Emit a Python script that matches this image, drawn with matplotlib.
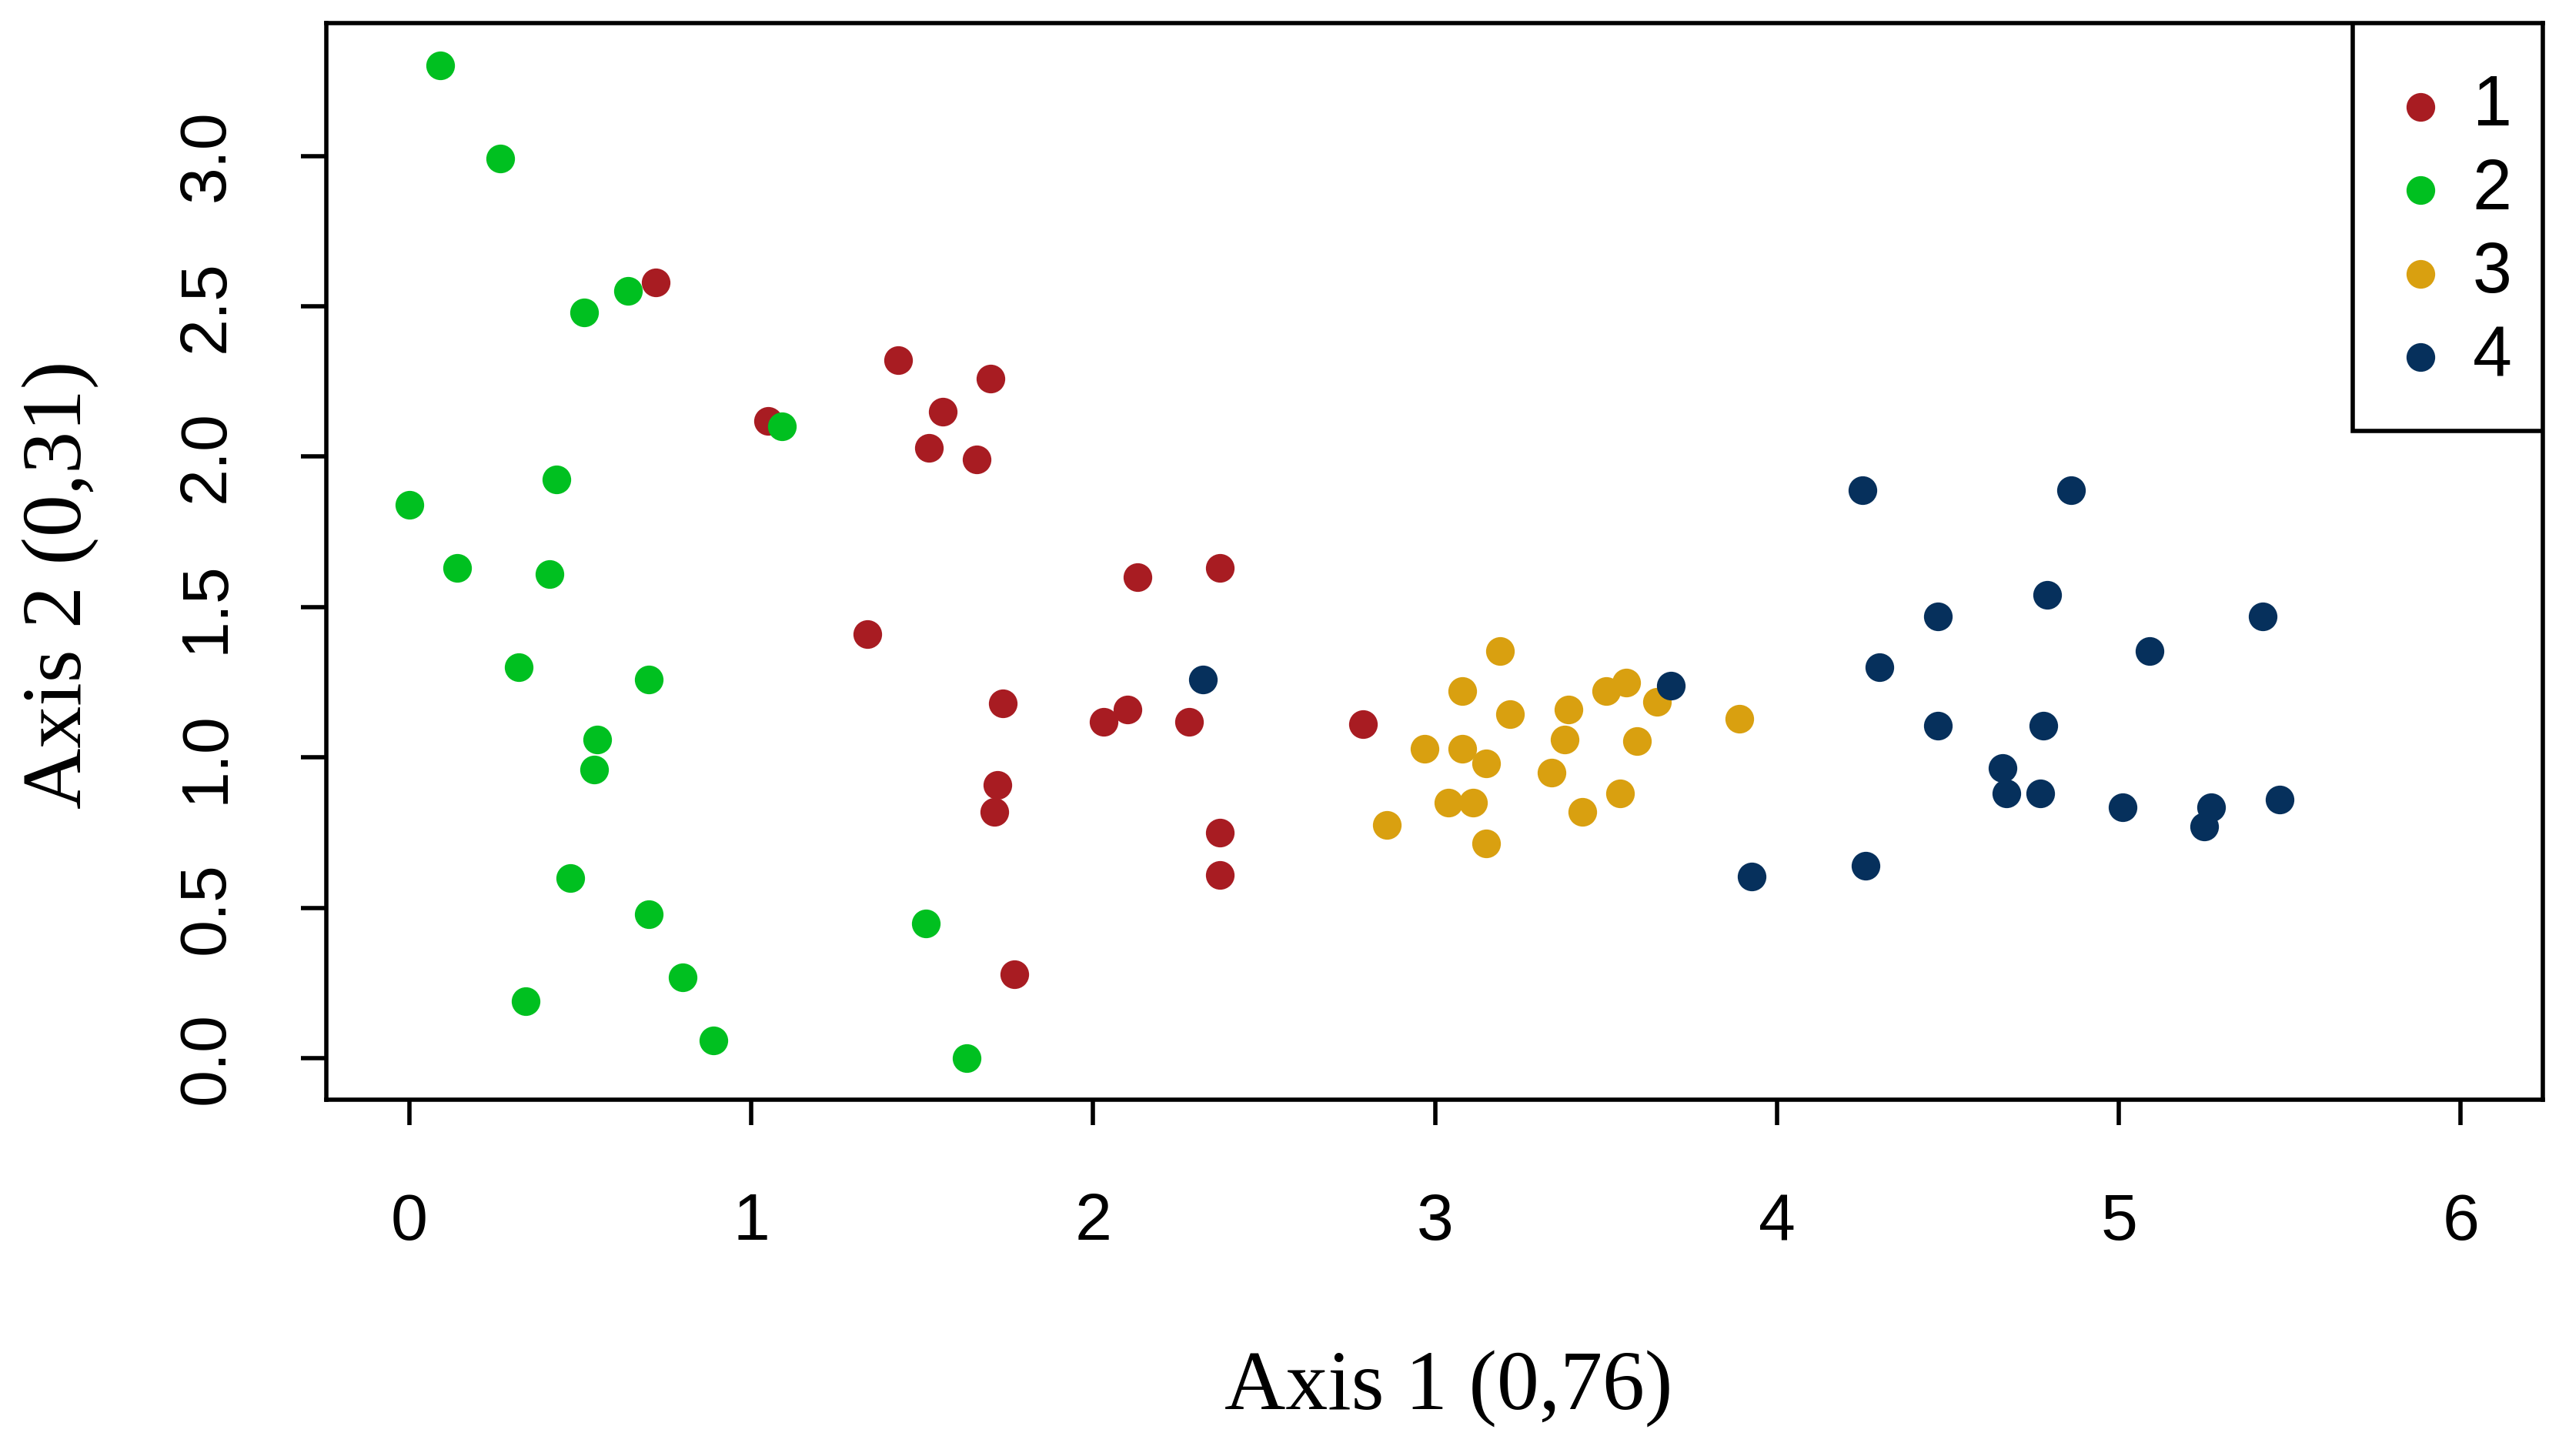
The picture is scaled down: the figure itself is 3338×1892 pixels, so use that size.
import matplotlib
matplotlib.use("Agg")
import matplotlib.pyplot as plt
from matplotlib.patches import Rectangle

# cluster 1 (red)
g1_x = [0.72, 1.05, 1.43, 1.56, 1.52, 1.70, 1.66, 1.34, 2.13, 2.37,
        1.735, 2.03, 2.10, 2.28, 1.72, 1.71, 2.37, 2.37, 1.77, 2.79]
g1_y = [2.58, 2.12, 2.32, 2.15, 2.03, 2.26, 1.99, 1.41, 1.60, 1.63,
        1.18, 1.12, 1.16, 1.12, 0.91, 0.82, 0.75, 0.61, 0.28, 1.11]

# cluster 2 (green)
g2_x = [0.09, 0.265, 0.51, 0.64, 1.09, 0.00, 0.43, 0.14, 0.41, 0.32,
        0.70, 0.55, 0.54, 0.47, 0.70, 1.51, 0.80, 0.34, 0.89, 1.63]
g2_y = [3.30, 2.99, 2.48, 2.55, 2.10, 1.84, 1.925, 1.63, 1.61, 1.30,
        1.26, 1.06, 0.96, 0.60, 0.48, 0.45, 0.27, 0.19, 0.06, 0.00]

# cluster 3 (gold)
g3_x = [3.19, 3.08, 3.22, 3.39, 3.50, 3.56, 3.65, 3.89, 2.97, 3.08,
        3.15, 3.38, 3.59, 3.34, 3.04, 3.11, 3.54, 3.43, 2.86, 3.15]
g3_y = [1.355, 1.22, 1.145, 1.16, 1.22, 1.25, 1.185, 1.13, 1.03, 1.03,
        0.98, 1.06, 1.055, 0.95, 0.85, 0.85, 0.88, 0.82, 0.775, 0.715]

# cluster 4 (navy)
g4_x = [2.32, 3.69, 4.25, 4.86, 4.79, 4.47, 5.42, 4.30, 5.09, 4.47,
        4.78, 4.66, 4.67, 4.77, 5.01, 5.27, 5.25, 5.47, 3.925, 4.26]
g4_y = [1.26, 1.24, 1.89, 1.89, 1.54, 1.47, 1.47, 1.30, 1.355, 1.105,
        1.105, 0.965, 0.88, 0.88, 0.835, 0.835, 0.77, 0.86, 0.605, 0.64]

groups = ["1", "2", "3", "4"]
colors = ["#A81C22", "#00C020", "#D9A010", "#06305C"]

x_ticks = [0, 1, 2, 3, 4, 5, 6]
y_ticks = [0.0, 0.5, 1.0, 1.5, 2.0, 2.5, 3.0]

plt.rcParams["font.family"] = ["Liberation Sans", "DejaVu Sans"]

fig = plt.figure(figsize=(33.38, 18.92), dpi=100)
ax = fig.add_axes([0.1269, 0.2449, 0.8629, 0.7392])

data = [(g1_x, g1_y), (g2_x, g2_y), (g3_x, g3_y), (g4_x, g4_y)]
for (xs, ys), lab, col in zip(data, groups, colors):
    ax.scatter(xs, ys, s=720, color=col, linewidths=0, label=lab, zorder=3)

ax.set_xlim(-0.244, 6.24)
ax.set_ylim(-0.136, 3.441)
ax.set_xticks(x_ticks)
ax.set_xticklabels([str(t) for t in x_ticks])
ax.set_yticks(y_ticks)
ax.set_yticklabels([f"{t:.1f}" for t in y_ticks])

for sp in ax.spines.values():
    sp.set_linewidth(4)
ax.tick_params(axis="both", length=24, width=4, labelsize=62)
ax.tick_params(axis="x", pad=63)
ax.tick_params(axis="y", pad=59)
plt.setp(ax.get_yticklabels(), rotation=90, va="center")

fig.text(1882 / 3338, 1 - 1805 / 1892, "Axis 1 (0,76)", ha="center", va="center",
         fontsize=79, family="Liberation Serif")
fig.text(79 / 3338, 1 - 760 / 1892, "Axis 2 (0,31)", ha="center", va="center",
         rotation=90, fontsize=79, family="Liberation Serif")

# legend box in the top-right corner, like R's legend("topright")
box_left, box_bottom = 0.9142, 0.621
ax.add_patch(Rectangle((box_left, box_bottom), 1 - box_left, 1 - box_bottom,
                       transform=ax.transAxes, facecolor="white", edgecolor="black",
                       linewidth=4, zorder=4))
leg = ax.legend(loc="upper left", bbox_to_anchor=(box_left, 1), borderaxespad=0,
                frameon=False, fontsize=66, handlelength=0.48, handletextpad=0.5,
                borderpad=0.72, labelspacing=0.245, scatterpoints=1)
leg.set_zorder(5)

fig.savefig("out.png", dpi=100)
